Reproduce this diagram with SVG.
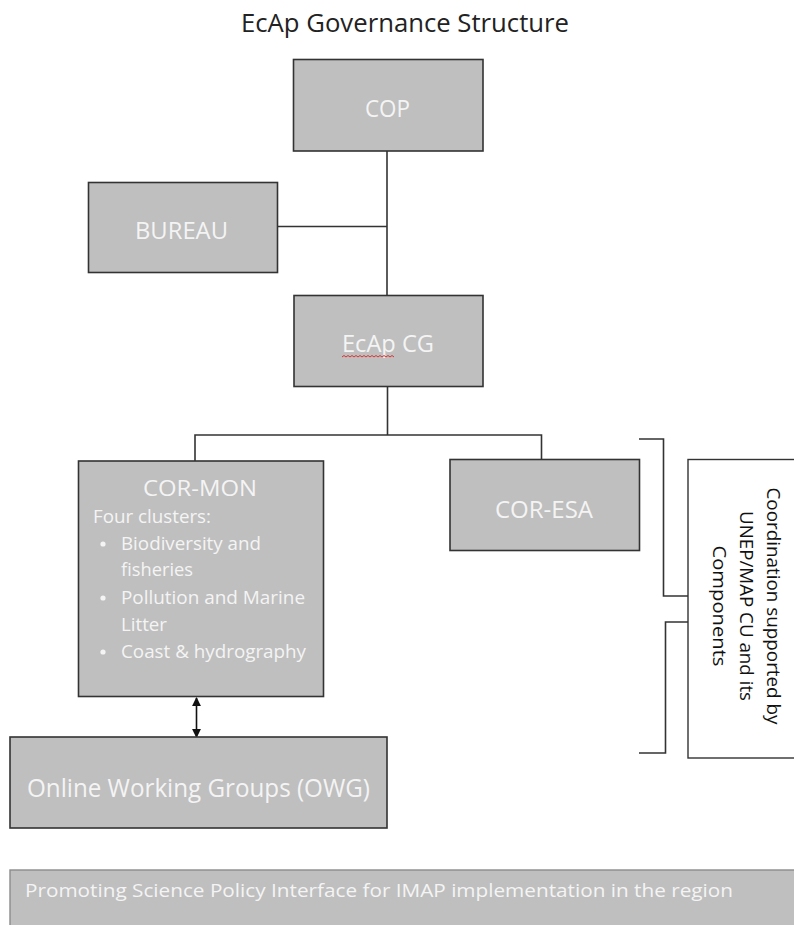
<svg xmlns="http://www.w3.org/2000/svg" width="794" height="925" viewBox="0 0 794 925">
<defs>
<style>
.box{fill:#bfbfbf;stroke:#333;stroke-width:1.6}
.wbox{fill:#fff;stroke:#333;stroke-width:1.4}
.ln{fill:none;stroke:#333;stroke-width:1.6}
.t{font-family:"Open Sans","Noto Sans",sans-serif;fill:#f4f4f4}
.ttl{font-family:"Open Sans","Noto Sans",sans-serif;fill:#222}
.dk{font-family:"Open Sans","Noto Sans",sans-serif;fill:#111}
</style>
<marker id="ah" viewBox="0 0 10 10" refX="9" refY="5" markerWidth="9" markerHeight="9" markerUnits="userSpaceOnUse" orient="auto-start-reverse">
<path d="M0,0 L10,5 L0,10 z" fill="#111"/>
</marker>
</defs>
<rect width="794" height="925" fill="#fff"/>
<text class="ttl" x="241" y="32" font-size="25" textLength="328" lengthAdjust="spacingAndGlyphs">EcAp Governance Structure</text>

<g id="connectors">
<path class="ln" d="M387,151 V295"/>
<path class="ln" d="M278,226.5 H387"/>
<path class="ln" d="M387.5,387 V435"/>
<path class="ln" d="M195,461 V435 H541.5 V459"/>
<path d="M196.5,698 V737" fill="none" stroke="#111" stroke-width="1.6" marker-start="url(#ah)" marker-end="url(#ah)"/>
<path class="ln" d="M639,439 H663.5 V596 H688"/>
<path class="ln" d="M688,622 H665.5 V753 H639"/>
</g>

<g id="cop">
<rect class="box" x="293.5" y="59.5" width="189.5" height="91.5"/>
<text class="t" x="365" y="117" font-size="24" textLength="45" lengthAdjust="spacingAndGlyphs">COP</text>
</g>
<g id="bureau">
<rect class="box" x="88.5" y="182.5" width="189" height="90"/>
<text class="t" x="135" y="239" font-size="24" textLength="93" lengthAdjust="spacingAndGlyphs">BUREAU</text>
</g>
<g id="ecap-cg">
<rect class="box" x="294" y="295.5" width="189" height="91"/>
<text class="t" x="342" y="352" font-size="24" textLength="92" lengthAdjust="spacingAndGlyphs">EcAp CG</text>
<path d="M342,357 l2,-1.5 l2,1.5 l2,-1.5 l2,1.5 l2,-1.5 l2,1.5 l2,-1.5 l2,1.5 l2,-1.5 l2,1.5 l2,-1.5 l2,1.5 l2,-1.5 l2,1.5 l2,-1.5 l2,1.5 l2,-1.5 l2,1.5 l2,-1.5 l2,1.5 l2,-1.5 l2,1.5 l2,-1.5 l2,1.5 l2,-1.5 l2,1.5" fill="none" stroke="#e03030" stroke-width="1"/>
</g>
<g id="cor-mon">
<rect class="box" x="78.5" y="461" width="245" height="235.5"/>
<text class="t" x="143" y="496" font-size="21" textLength="114" lengthAdjust="spacingAndGlyphs">COR-MON</text>
<text class="t" x="93" y="523" font-size="18" textLength="118" lengthAdjust="spacingAndGlyphs">Four clusters:</text>
<circle cx="103" cy="544" r="2.6" fill="#f4f4f4"/>
<text class="t" x="121" y="550" font-size="18" textLength="140" lengthAdjust="spacingAndGlyphs">Biodiversity and</text>
<text class="t" x="121" y="576" font-size="18" textLength="72" lengthAdjust="spacingAndGlyphs">fisheries</text>
<circle cx="103" cy="598" r="2.6" fill="#f4f4f4"/>
<text class="t" x="121" y="604" font-size="18" textLength="184" lengthAdjust="spacingAndGlyphs">Pollution and Marine</text>
<text class="t" x="121" y="631" font-size="18" textLength="46" lengthAdjust="spacingAndGlyphs">Litter</text>
<circle cx="103" cy="652" r="2.6" fill="#f4f4f4"/>
<text class="t" x="121" y="658" font-size="18" textLength="185" lengthAdjust="spacingAndGlyphs">Coast &amp; hydrography</text>
</g>
<g id="cor-esa">
<rect class="box" x="450" y="459.5" width="189.5" height="91"/>
<text class="t" x="495" y="518" font-size="24" textLength="98" lengthAdjust="spacingAndGlyphs">COR-ESA</text>
</g>
<g id="owg">
<rect class="box" x="10" y="737" width="377" height="91"/>
<text class="t" x="27" y="797" font-size="25" textLength="343" lengthAdjust="spacingAndGlyphs">Online Working Groups (OWG)</text>
</g>
<g id="coordination">
<rect class="wbox" x="688" y="459.5" width="130" height="298.5"/>
<g transform="translate(740,606) rotate(90)">
<text class="dk" x="0" y="-27" font-size="18" text-anchor="middle" textLength="237" lengthAdjust="spacingAndGlyphs">Coordination supported by</text>
<text class="dk" x="0" y="0" font-size="18" text-anchor="middle" textLength="190" lengthAdjust="spacingAndGlyphs">UNEP/MAP CU and its</text>
<text class="dk" x="0" y="27" font-size="18" text-anchor="middle" textLength="121" lengthAdjust="spacingAndGlyphs">Components</text>
</g>
</g>
<g id="banner">
<rect x="10" y="870" width="800" height="70" fill="#bfbfbf" stroke="#8c8c8c" stroke-width="1.4"/>
<text class="t" x="25" y="897" font-size="18" textLength="708" lengthAdjust="spacingAndGlyphs">Promoting Science Policy Interface for IMAP implementation in the region</text>
</g>
</svg>
